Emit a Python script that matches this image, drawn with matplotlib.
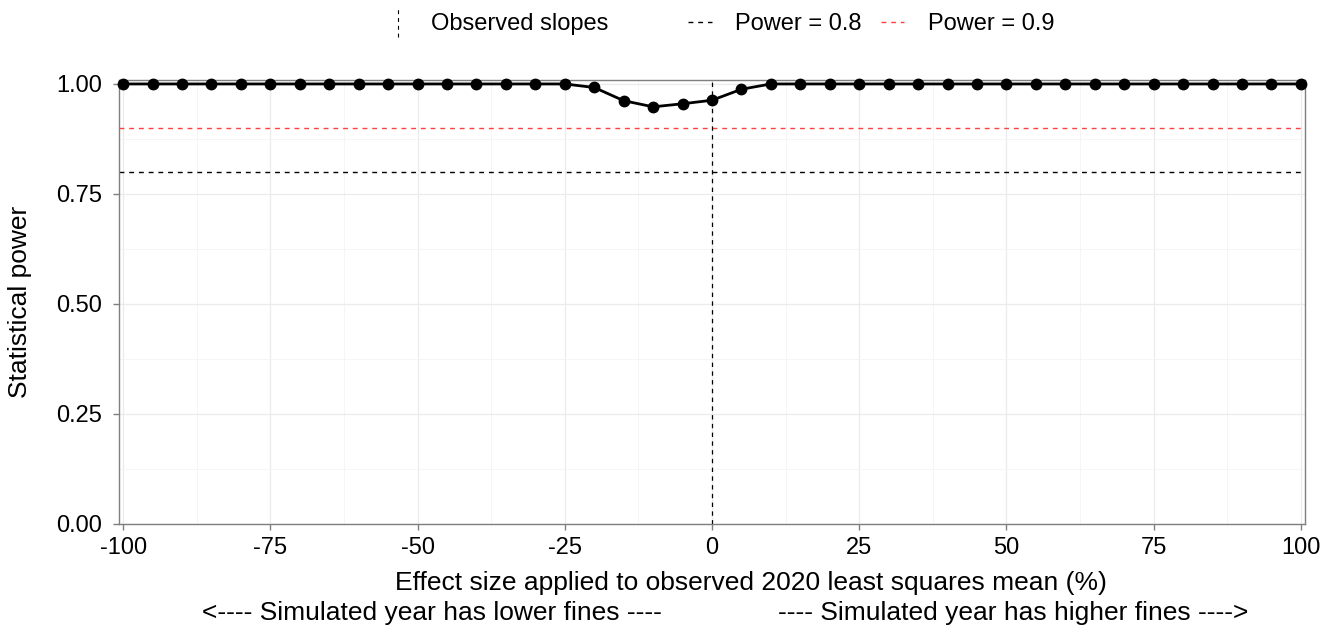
import numpy as np
import matplotlib
matplotlib.use("Agg")
import matplotlib.pyplot as plt
from matplotlib.lines import Line2D
from matplotlib.legend_handler import HandlerBase

plt.rcParams['font.family'] = ['Liberation Sans', 'DejaVu Sans']
plt.rcParams['axes.unicode_minus'] = False

# effect size (%) and simulated power
effect = [-100, -95, -90, -85, -80, -75, -70, -65, -60, -55, -50, -45, -40, -35,
          -30, -25, -20, -15, -10, -5, 0, 5, 10, 15, 20, 25, 30, 35, 40, 45, 50,
          55, 60, 65, 70, 75, 80, 85, 90, 95, 100]
power = [1.0] * 16 + [0.992, 0.962, 0.948, 0.955, 0.963, 0.988] + [1.0] * 19
power_lines = [0.8, 0.9]
power_colors = ['black', '#ff4040']
power_labels = ['Power = 0.8', 'Power = 0.9']
observed_slope = 0

W, H = 1332, 629
DASH = (0, (3.5, 3.5))


class VLineHandler(HandlerBase):
    # vertical dashed key for the observed slope legend entry
    def create_artists(self, legend, orig_handle, xd, yd, width, height, fontsize, trans):
        x = xd + width / 2
        ln = Line2D([x, x], [yd - height * 0.45, yd + height * 1.45], color='black',
                    linestyle=DASH, linewidth=0.8, transform=trans)
        return [ln]


fig = plt.figure(figsize=(W / 100, H / 100), dpi=100)
ax = fig.add_axes([119 / W, 1 - 524 / H, 1186 / W, 444 / H])

for y, c in zip(power_lines, power_colors):
    ax.axhline(y, color=c, linestyle=DASH, linewidth=1.0, zorder=2)
ax.axvline(observed_slope, color='black', linestyle=DASH, linewidth=0.9, zorder=2)

ax.plot(effect, power, color='black', linewidth=2.0, marker='o', markersize=7.5, zorder=3,
        clip_on=False)

ax.set_xlim(-100.7, 100.7)
ax.set_ylim(0, 1.009)
ax.set_xticks([-100, -75, -50, -25, 0, 25, 50, 75, 100])
ax.set_xticks(np.arange(-87.5, 100, 25), minor=True)
ax.set_yticks([0, 0.25, 0.5, 0.75, 1.0])
ax.set_yticklabels(['0.00', '0.25', '0.50', '0.75', '1.00'])
ax.set_yticks([0.125, 0.375, 0.625, 0.875], minor=True)
ax.grid(True, which='major', color='#ebebeb', linewidth=0.9, zorder=0)
ax.grid(True, which='minor', color='#f4f4f4', linewidth=0.6, zorder=0)
ax.set_axisbelow(True)
ax.tick_params(which='major', direction='out', length=4, width=1, color='#7f7f7f',
               labelsize=17, labelcolor='black')
ax.tick_params(axis='y', pad=8)
ax.tick_params(axis='x', pad=5)
ax.tick_params(which='minor', length=0)
for s in ax.spines.values():
    s.set_color('#7f7f7f')
    s.set_linewidth(1)

ax.set_ylabel('Statistical power', fontsize=19)
ax.yaxis.set_label_coords(-0.0734, 0.5)

fig.text(395 / W, 1 - 583 / H, 'Effect size applied to observed 2020 least squares mean (%)',
         ha='left', va='center', fontsize=19)
fig.text(202 / W, 1 - 613 / H, '<---- Simulated year has lower fines ----', ha='left',
         va='center', fontsize=19)
fig.text(1248 / W, 1 - 613 / H, '---- Simulated year has higher fines ---->', ha='right',
         va='center', fontsize=19)

# legend for the observed slope line
obs_handle = Line2D([], [], color='black')
leg1 = fig.legend([obs_handle], ['Observed slopes'], loc='center left',
                  bbox_to_anchor=(386 / W, 1 - 24 / H), frameon=False, fontsize=17,
                  handlelength=1.0, handletextpad=0.9, borderpad=0, borderaxespad=0,
                  handler_map={obs_handle: VLineHandler()})

# legend for the power reference lines
pw_handles = [Line2D([], [], color=c, linestyle=DASH, linewidth=1.0) for c in power_colors]
leg2 = fig.legend(pw_handles, power_labels, loc='center left',
                  bbox_to_anchor=(688 / W, 1 - 24 / H), ncol=2, frameon=False, fontsize=17,
                  handlelength=1.0, handletextpad=1.0, columnspacing=0.8, borderpad=0,
                  borderaxespad=0)

fig.savefig('out.png', dpi=100)
